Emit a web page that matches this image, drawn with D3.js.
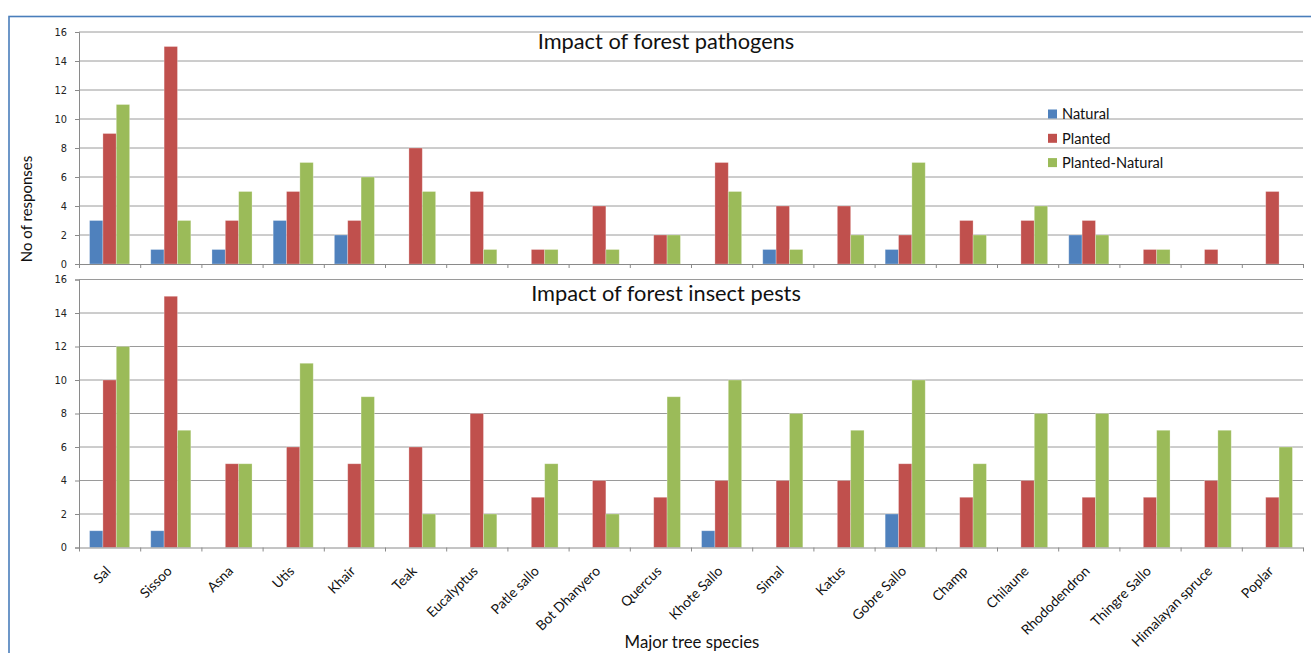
<!DOCTYPE html>
<html>
<head>
<meta charset="utf-8">
<script src="https://cdn.jsdelivr.net/npm/d3@7"></script>
<style>
  html, body { margin: 0; padding: 0; background: #fff; overflow: hidden; }
  svg { display: block; }
</style>
</head>
<body>
<svg id="chart" width="1311" height="653"></svg>
<script>
// Tree species surveyed
const categories = ["Sal", "Sissoo", "Asna", "Utis", "Khair", "Teak", "Eucalyptus", "Patle sallo",
  "Bot Dhanyero", "Quercus", "Khote Sallo", "Simal", "Katus", "Gobre Sallo", "Champ", "Chilaune",
  "Rhododendron", "Thingre Sallo", "Himalayan spruce", "Poplar"];

const seriesNames = ["Natural", "Planted", "Planted-Natural"];
const seriesColors = ["#4F81BD", "#C0504D", "#9BBB59"];

// Responses: impact of forest pathogens
const pathogenNatural        = [3, 1, 1, 3, 2, 0, 0, 0, 0, 0, 0, 1, 0, 1, 0, 0, 2, 0, 0, 0];
const pathogenPlanted        = [9, 15, 3, 5, 3, 8, 5, 1, 4, 2, 7, 4, 4, 2, 3, 3, 3, 1, 1, 5];
const pathogenPlantedNatural = [11, 3, 5, 7, 6, 5, 1, 1, 1, 2, 5, 1, 2, 7, 2, 4, 2, 1, 0, 0];

// Responses: impact of forest insect pests
const pestNatural        = [1, 1, 0, 0, 0, 0, 0, 0, 0, 0, 1, 0, 0, 2, 0, 0, 0, 0, 0, 0];
const pestPlanted        = [10, 15, 5, 6, 5, 6, 8, 3, 4, 3, 4, 4, 4, 5, 3, 4, 3, 3, 4, 3];
const pestPlantedNatural = [12, 7, 5, 11, 9, 2, 2, 5, 2, 9, 10, 8, 7, 10, 5, 8, 8, 7, 7, 6];

const yTickValues = [0, 2, 4, 6, 8, 10, 12, 14, 16];

const panels = [
  { title: "Impact of forest pathogens", series: [pathogenNatural, pathogenPlanted, pathogenPlantedNatural],
    top: 32, bottom: 264, titleY: 49, legend: true },
  { title: "Impact of forest insect pests", series: [pestNatural, pestPlanted, pestPlantedNatural],
    top: 279.5, bottom: 547.5, titleY: 300.5, legend: false }
];

const svg = d3.select("#chart");
const left = 79, right = 1303;
const labelFont = "Lato, 'Open Sans', sans-serif";
const tickFont = "'DejaVu Sans', Verdana, sans-serif";

// Outer frame
svg.append("rect")
  .attr("x", 9).attr("y", 16.5).attr("width", 1320).attr("height", 660)
  .attr("fill", "none").attr("stroke", "#4A7EBB").attr("stroke-width", 1.6);

const x = d3.scaleBand().domain(categories).range([left, right]).padding(0);
const groupWidth = x.bandwidth() * 0.655;
const xInner = d3.scaleBand().domain(d3.range(seriesNames.length))
  .range([(x.bandwidth() - groupWidth) / 2, (x.bandwidth() + groupWidth) / 2]);
const xBounds = d3.scaleLinear().domain([0, categories.length]).range([left, right]);

panels.forEach(p => {
  const y = d3.scaleLinear().domain([0, 16]).range([p.bottom, p.top]);
  const g = svg.append("g");

  // Horizontal gridlines
  g.append("g").selectAll("line").data(yTickValues.filter(v => v > 0)).join("line")
    .attr("x1", left).attr("x2", right)
    .attr("y1", d => y(d)).attr("y2", d => y(d))
    .attr("stroke", "#9a9a9a").attr("stroke-width", 1);

  // Bars
  const groups = g.append("g").selectAll("g").data(categories).join("g")
    .attr("transform", d => `translate(${x(d)},0)`);
  groups.selectAll("rect")
    .data((d, i) => p.series.map((s, k) => ({ k, v: s[i] })).filter(e => e.v > 0))
    .join("rect")
    .attr("x", d => xInner(d.k))
    .attr("width", xInner.bandwidth())
    .attr("y", d => y(d.v))
    .attr("height", d => y(0) - y(d.v))
    .attr("fill", d => seriesColors[d.k])
    .attr("stroke", "#ffffff").attr("stroke-opacity", 0.35).attr("stroke-width", 0.8);

  // Y axis
  const yAxis = g.append("g").attr("transform", `translate(${left},0)`)
    .call(d3.axisLeft(y).tickValues(yTickValues).tickSize(4).tickPadding(8));
  yAxis.select(".domain").attr("stroke", "#8a8a8a");
  yAxis.selectAll(".tick line").attr("stroke", "#8a8a8a");
  yAxis.selectAll(".tick text").attr("font-family", tickFont).attr("font-size", 9.8).attr("fill", "#222");

  // X axis with ticks on category boundaries
  const xAxis = g.append("g").attr("transform", `translate(0,${p.bottom})`)
    .call(d3.axisBottom(xBounds).ticks(categories.length).tickSize(4).tickSizeOuter(0).tickFormat(""));
  xAxis.select(".domain").attr("stroke", "#8a8a8a");
  xAxis.selectAll(".tick line").attr("stroke", "#8a8a8a");

  // Panel title
  g.append("text")
    .attr("x", 666).attr("y", p.titleY)
    .attr("text-anchor", "middle")
    .attr("font-family", labelFont).attr("font-size", 21.8).attr("fill", "#111")
    .text(p.title);

  if (p.legend) {
    const lg = g.append("g").attr("transform", "translate(1048,114)");
    const items = lg.selectAll("g").data(seriesNames).join("g")
      .attr("transform", (d, i) => `translate(0,${i * 24.3})`);
    items.append("rect").attr("x", 0).attr("y", -4.5).attr("width", 9).attr("height", 9)
      .attr("fill", (d, i) => seriesColors[i]);
    items.append("text").attr("x", 14).attr("y", 0).attr("dy", "0.36em")
      .attr("font-family", labelFont).attr("font-size", 14.6).attr("fill", "#111")
      .text(d => d);
  }
});

// Category labels under the lower panel
svg.append("g").selectAll("text").data(categories).join("text")
  .attr("transform", d => `translate(${x(d) + x.bandwidth() / 2 + 2},${572}) rotate(-45)`)
  .attr("text-anchor", "end")
  .attr("font-family", labelFont).attr("font-size", 13.8).attr("fill", "#111")
  .text(d => d);

// Axis titles
svg.append("text")
  .attr("transform", "translate(32,209) rotate(-90)")
  .attr("text-anchor", "middle")
  .attr("font-family", labelFont).attr("font-size", 15).attr("fill", "#111")
  .text("No of responses");

svg.append("text")
  .attr("x", 692).attr("y", 648)
  .attr("text-anchor", "middle")
  .attr("font-family", labelFont).attr("font-size", 16.8).attr("fill", "#111")
  .text("Major tree species");
</script>
</body>
</html>
